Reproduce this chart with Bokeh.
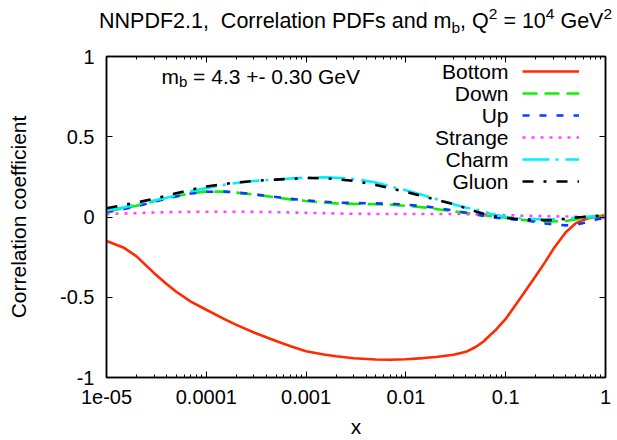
from bokeh.plotting import figure
from bokeh.layouts import column
from bokeh.models import (FixedTicker, LogAxis, LinearAxis, CustomJSTickFormatter,
                          Label, Legend, LegendItem, Range1d, Div)
from bokeh.core.properties import value
from bokeh.embed import file_html
from bokeh.resources import INLINE

# ---------------- data ----------------
x = [1e-5, 1.5e-5, 2e-5, 3e-5, 4e-5, 5e-5, 7e-5, 1e-4, 1.5e-4, 2e-4, 3e-4, 5e-4, 7e-4,
     1e-3, 1.5e-3, 2e-3, 3e-3, 5e-3, 7e-3, 1e-2, 1.5e-2, 2e-2, 3e-2, 4e-2, 5e-2, 6e-2,
     7e-2, 8e-2, 0.1, 0.12, 0.15, 0.2, 0.25, 0.3, 0.4, 0.5, 0.6, 0.7, 0.85, 1.0]

bottom = [-0.15, -0.192, -0.245, -0.35, -0.418, -0.466, -0.527, -0.578, -0.635, -0.672,
          -0.72, -0.773, -0.805, -0.836, -0.857, -0.868, -0.88, -0.888, -0.889, -0.886,
          -0.879, -0.872, -0.858, -0.84, -0.81, -0.776, -0.735, -0.702, -0.635, -0.565,
          -0.48, -0.368, -0.278, -0.2, -0.095, -0.04, -0.018, -0.005, 0.005, 0.01]
down = [0.036, 0.055, 0.07, 0.098, 0.118, 0.13, 0.148, 0.158, 0.158, 0.152, 0.14, 0.122,
        0.11, 0.1, 0.09, 0.085, 0.082, 0.079, 0.076, 0.07, 0.06, 0.05, 0.035, 0.025,
        0.017, 0.011, 0.006, 0.002, -0.005, -0.012, -0.018, -0.023, -0.026, -0.027,
        -0.025, -0.016, -0.008, -0.003, 0.003, 0.008]
up = [0.03, 0.05, 0.066, 0.095, 0.115, 0.128, 0.146, 0.157, 0.158, 0.153, 0.142, 0.125,
      0.113, 0.104, 0.095, 0.09, 0.087, 0.085, 0.082, 0.077, 0.067, 0.058, 0.04, 0.027,
      0.015, 0.006, 0.0, -0.004, -0.01, -0.015, -0.02, -0.03, -0.04, -0.046, -0.052,
      -0.048, -0.038, -0.025, -0.012, -0.005]
strange = [0.019, 0.022, 0.024, 0.028, 0.03, 0.031, 0.032, 0.033, 0.033, 0.033, 0.032,
           0.03, 0.028, 0.026, 0.024, 0.022, 0.02, 0.019, 0.019, 0.019, 0.019, 0.019,
           0.019, 0.018, 0.017, 0.016, 0.014, 0.013, 0.011, 0.01, 0.008, 0.006, 0.005,
           0.004, 0.003, 0.002, 0.001, 0.0, -0.003, -0.005]
charm = [0.04, 0.06, 0.078, 0.103, 0.12, 0.135, 0.16, 0.18, 0.2, 0.212, 0.224, 0.234,
         0.24, 0.245, 0.247, 0.245, 0.237, 0.215, 0.19, 0.167, 0.135, 0.112, 0.08, 0.058,
         0.047, 0.036, 0.02, 0.012, 0.002, -0.005, -0.01, -0.013, -0.015, -0.015, -0.01,
         -0.005, -0.001, 0.003, 0.007, 0.01]
gluon = [0.054, 0.075, 0.09, 0.113, 0.133, 0.148, 0.17, 0.19, 0.205, 0.215, 0.225, 0.233,
         0.238, 0.243, 0.242, 0.236, 0.225, 0.2, 0.178, 0.157, 0.128, 0.108, 0.08, 0.055,
         0.035, 0.02, 0.01, 0.003, -0.005, -0.01, -0.015, -0.018, -0.02, -0.019, -0.012,
         -0.004, 0.0, 0.003, 0.007, 0.01]

series_names = ["Bottom", "Down", "Up", "Strange", "Charm", "Gluon"]
series_values = [bottom, down, up, strange, charm, gluon]

x_tick_values = [1e-5, 1e-4, 1e-3, 1e-2, 1e-1, 1.0]
x_tick_labels = ["1e-05", "0.0001", "0.001", "0.01", "0.1", "1"]
y_tick_values = [-1.0, -0.5, 0.0, 0.5, 1.0]
y_tick_labels = ["-1", "-0.5", "0", "0.5", "1"]

# ---------------- styles / layout ----------------
colors = ["#ff2a00", "#11ee00", "#0a3cff", "#ff44ff", "#00eeff", "#000000"]
dashes = ["solid", "15 7", "7 10", "3 6", "27 6 3 7", "11 10 3 10"]
FONT = "Liberation Sans"

W = 612
DIV_H = 40
ML, MR, MT, MB = 106, 7, 16, 63
FRAME_H = 321
H = MT + FRAME_H + MB
FRAME_L = ML
FRAME_B = DIV_H + MT + FRAME_H          # page y of frame bottom
LABEL_REF = FRAME_B + 8                  # empirical reference of screen-unit labels


def fx(page_x):
    return page_x - FRAME_L


def fy_label(page_y):
    return LABEL_REF - page_y


def fy_frame(page_y):
    return FRAME_B - page_y


title_div = Div(
    text=('<div style="font-family:\'Liberation Sans\';font-size:21.5px;line-height:24px;'
          'color:black;white-space:pre;padding-top:9px;padding-left:99px;text-align:center;">'
          'NNPDF2.1,  Correlation PDFs and m'
          '<span style="font-size:15.5px;position:relative;top:5px;">b</span>'
          ', Q<span style="font-size:15.5px;position:relative;top:-9px;">2</span>'
          ' = 10<span style="font-size:15.5px;position:relative;top:-9px;">4</span>'
          ' GeV<span style="font-size:15.5px;position:relative;top:-9px;">2</span>'
          '</div>'),
    width=W, height=DIV_H, margin=0)

p = figure(width=W, height=H, x_axis_type="log",
           x_range=Range1d(1e-5, 1.0), y_range=Range1d(-1.0, 1.0),
           output_backend="svg", toolbar_location=None,
           min_border_left=ML, min_border_right=MR,
           min_border_top=MT, min_border_bottom=MB, margin=0)
p.grid.visible = False
p.outline_line_color = "black"
p.outline_line_width = 1.5
p.background_fill_color = "white"
p.border_fill_color = "white"

minor = [m * 10.0 ** e for e in range(-5, 0) for m in range(2, 10)]

x_fmt = CustomJSTickFormatter(args=dict(vals=x_tick_values, labs=x_tick_labels), code="""
for (let i = 0; i < vals.length; i++) {
  if (Math.abs(Math.log10(tick) - Math.log10(vals[i])) < 1e-6) return labs[i];
}
return "";
""")
y_fmt = CustomJSTickFormatter(args=dict(vals=y_tick_values, labs=y_tick_labels), code="""
for (let i = 0; i < vals.length; i++) {
  if (Math.abs(tick - vals[i]) < 1e-9) return labs[i];
}
return "";
""")
blank_fmt = CustomJSTickFormatter(code="return '';")


def style_axis(ax):
    ax.axis_line_color = "black"
    ax.axis_line_width = 1.5
    ax.major_tick_in = 6
    ax.major_tick_out = 0
    ax.minor_tick_in = 3
    ax.minor_tick_out = 0
    ax.major_tick_line_color = "black"
    ax.minor_tick_line_color = "black"
    ax.major_tick_line_width = 1
    ax.minor_tick_line_width = 1
    ax.major_label_text_font = FONT
    ax.major_label_text_font_size = "20px"
    ax.major_label_text_color = "black"


xa = p.xaxis[0]
xa.ticker = FixedTicker(ticks=x_tick_values, minor_ticks=minor)
xa.formatter = x_fmt
style_axis(xa)
xa.major_label_standoff = 12
xa.axis_label = "x"
xa.axis_label_text_font = FONT
xa.axis_label_text_font_size = "21px"
xa.axis_label_text_font_style = "normal"
xa.axis_label_text_color = "black"
xa.axis_label_standoff = 8

ya = p.yaxis[0]
ya.ticker = FixedTicker(ticks=y_tick_values, minor_ticks=[])
ya.formatter = y_fmt
style_axis(ya)
ya.major_label_standoff = 12
ya.axis_label = "Correlation coefficient"
ya.axis_label_text_font = FONT
ya.axis_label_text_font_size = "21px"
ya.axis_label_text_font_style = "normal"
ya.axis_label_text_color = "black"
ya.axis_label_standoff = 27

top = LogAxis(ticker=FixedTicker(ticks=x_tick_values, minor_ticks=minor), formatter=blank_fmt)
style_axis(top)
top.major_label_standoff = 0
top.major_label_text_font_size = "1px"
p.add_layout(top, "above")

right = LinearAxis(ticker=FixedTicker(ticks=y_tick_values, minor_ticks=[]), formatter=blank_fmt)
style_axis(right)
right.major_label_standoff = 0
right.major_label_text_font_size = "1px"
p.add_layout(right, "right")

# ---------------- curves ----------------
renderers = []
for name, vals, c, d in zip(series_names, series_values, colors, dashes):
    r = p.line(x, vals, line_color=c, line_width=2.6, line_dash=d)
    renderers.append(r)

# legend: samples drawn by Bokeh's legend, texts to their left
row_h = 22
legend_top_page = 59.5
legend = Legend(items=[LegendItem(label=value(""), renderers=[r]) for r in renderers],
                location=(fx(522), fy_frame(legend_top_page + row_h * len(renderers))),
                glyph_width=57, glyph_height=row_h, label_height=row_h, label_width=0,
                label_standoff=0, spacing=0, padding=0, margin=0,
                border_line_alpha=0, background_fill_alpha=0,
                label_text_font_size="1px")
p.add_layout(legend)

for i, name in enumerate(series_names):
    base = legend_top_page + row_h * i + row_h / 2 + 8
    p.add_layout(Label(x=fx(508), y=fy_label(base), x_units="screen", y_units="screen",
                       text=name, text_font=FONT, text_font_size="21px",
                       text_align="right", text_baseline="alphabetic", text_color="black"))

# annotation m_b = ...
p.add_layout(Label(x=fx(161), y=fy_label(83.5), x_units="screen", y_units="screen",
                   text="m", text_font=FONT, text_font_size="21px",
                   text_align="left", text_baseline="alphabetic", text_color="black"))
p.add_layout(Label(x=fx(161 + 17.5), y=fy_label(83.5) - 5, x_units="screen", y_units="screen",
                   text="b", text_font=FONT, text_font_size="15px",
                   text_align="left", text_baseline="alphabetic", text_color="black"))
p.add_layout(Label(x=fx(161 + 17.5 + 8.3 + 5.8), y=fy_label(83.5), x_units="screen",
                   y_units="screen", text="= 4.3 +- 0.30 GeV", text_font=FONT,
                   text_font_size="21px", text_align="left", text_baseline="alphabetic",
                   text_color="black"))

open("out.html", "w").write(file_html(column(title_div, p, spacing=0), INLINE))
